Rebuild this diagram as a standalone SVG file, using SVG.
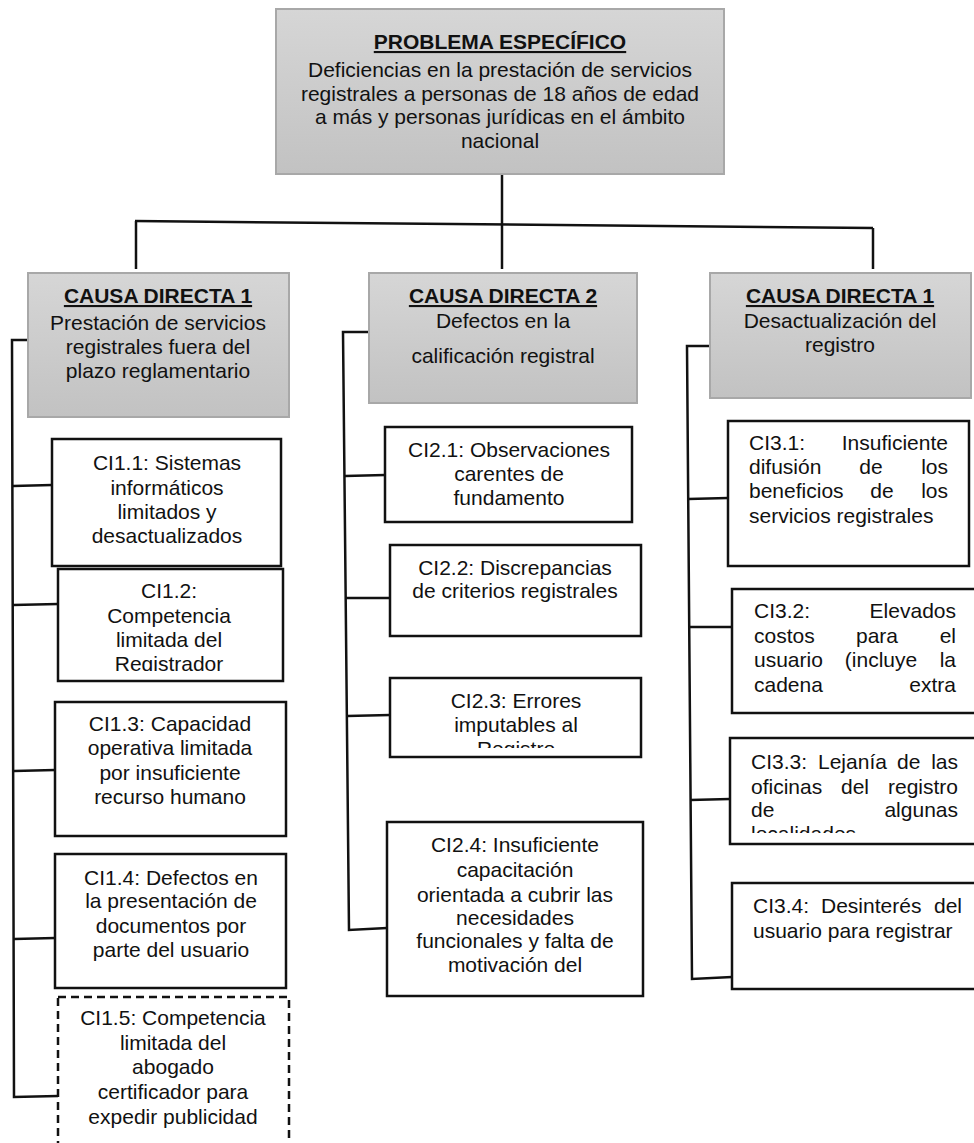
<svg xmlns="http://www.w3.org/2000/svg" width="974" height="1143" viewBox="0 0 974 1143">
<style>
text{font-family:"Liberation Sans",Arial,sans-serif;font-size:21px;fill:#111;}
.c{text-anchor:middle;}
.e{text-anchor:end;}
.h{font-weight:bold;text-decoration:underline;}
.hdr{fill:url(#g);stroke:#a8a8a8;stroke-width:2;}
.box{fill:#fff;stroke:#111;stroke-width:2.5;}
.dash{fill:#fff;stroke:#111;stroke-width:2.5;stroke-dasharray:8 5;}
.ln{fill:none;stroke:#111;stroke-width:2.5;stroke-linejoin:miter;}
</style>
<defs>
<linearGradient id="g" x1="0" y1="0" x2="0" y2="1">
<stop offset="0" stop-color="#d6d6d6"/>
<stop offset="1" stop-color="#c2c2c2"/>
</linearGradient>
<clipPath id="k12"><rect x="58" y="569" width="225" height="102"/></clipPath>
<clipPath id="k23"><rect x="390" y="678" width="251" height="70"/></clipPath>
<clipPath id="k24"><rect x="387" y="822" width="256" height="165"/></clipPath>
<clipPath id="k33"><rect x="730" y="738" width="244" height="95"/></clipPath>
</defs>
<rect width="974" height="1143" fill="#fff"/>

<g id="connectors">
<path class="ln" d="M502,174 L502,269"/>
<path class="ln" d="M135,221 L873,228"/>
<path class="ln" d="M136,221 L136,269"/>
<path class="ln" d="M873,228 L873,269"/>
<path class="ln" d="M28,340 L12,340 L14,1097 L58,1096"/>
<path class="ln" d="M13,486 L52,485"/>
<path class="ln" d="M13,605 L58,604"/>
<path class="ln" d="M14,771 L55,770"/>
<path class="ln" d="M14,939 L55,938"/>
<path class="ln" d="M369,332 L343,332 L349,930 L387,928"/>
<path class="ln" d="M345,476 L385,475"/>
<path class="ln" d="M346,598 L390,598"/>
<path class="ln" d="M347,716 L390,715"/>
<path class="ln" d="M710,346 L687,346 L692,979 L732,977"/>
<path class="ln" d="M688,499 L728,498"/>
<path class="ln" d="M689,627 L732,627"/>
<path class="ln" d="M690,800 L730,799"/>
</g>

<g id="problema">
<rect class="hdr" x="276" y="9" width="448" height="165"/>
<text class="c h" x="500" y="49">PROBLEMA ESPECÍFICO</text>
<text class="c" x="500" y="77">Deficiencias en la prestación de servicios</text>
<text class="c" x="500" y="101">registrales a personas de 18 años de edad</text>
<text class="c" x="500" y="124">a más y personas jurídicas en el ámbito</text>
<text class="c" x="500" y="148">nacional</text>
</g>

<g id="causa1">
<rect class="hdr" x="28" y="273" width="261" height="144"/>
<text class="c h" x="158" y="303">CAUSA DIRECTA 1</text>
<text class="c" x="158" y="330">Prestación de servicios</text>
<text class="c" x="158" y="354">registrales fuera del</text>
<text class="c" x="158" y="378">plazo reglamentario</text>
</g>

<g id="causa2">
<rect class="hdr" x="369" y="273" width="268" height="130"/>
<text class="c h" x="503" y="303">CAUSA DIRECTA 2</text>
<text class="c" x="503" y="328">Defectos en la</text>
<text class="c" x="503" y="363">calificación registral</text>
</g>

<g id="causa3">
<rect class="hdr" x="710" y="273" width="261" height="125"/>
<text class="c h" x="840" y="303">CAUSA DIRECTA 1</text>
<text class="c" x="840" y="328">Desactualización del</text>
<text class="c" x="840" y="352">registro</text>
</g>

<g id="ci1-1">
<rect class="box" x="52" y="439" width="229" height="127"/>
<text class="c" x="167" y="470">CI1.1: Sistemas</text>
<text class="c" x="167" y="495">informáticos</text>
<text class="c" x="167" y="519">limitados y</text>
<text class="c" x="167" y="543">desactualizados</text>
</g>

<g id="ci1-2">
<rect class="box" x="58" y="569" width="225" height="112"/>
<g clip-path="url(#k12)">
<text class="c" x="169" y="598">CI1.2:</text>
<text class="c" x="169" y="623">Competencia</text>
<text class="c" x="169" y="647">limitada del</text>
<text class="c" x="169" y="671">Registrador</text>
</g>
</g>

<g id="ci1-3">
<rect class="box" x="55" y="702" width="231" height="134"/>
<text class="c" x="170" y="731">CI1.3: Capacidad</text>
<text class="c" x="170" y="755">operativa limitada</text>
<text class="c" x="170" y="780">por insuficiente</text>
<text class="c" x="170" y="804">recurso humano</text>
</g>

<g id="ci1-4">
<rect class="box" x="55" y="854" width="231" height="134"/>
<text class="c" x="171" y="885">CI1.4: Defectos en</text>
<text class="c" x="171" y="908">la presentación de</text>
<text class="c" x="171" y="933">documentos por</text>
<text class="c" x="171" y="957">parte del usuario</text>
</g>

<g id="ci1-5">
<rect class="dash" x="58" y="997" width="231" height="170"/>
<text class="c" x="173" y="1025">CI1.5: Competencia</text>
<text class="c" x="173" y="1050">limitada del</text>
<text class="c" x="173" y="1074">abogado</text>
<text class="c" x="173" y="1099">certificador para</text>
<text class="c" x="173" y="1124">expedir publicidad</text>
</g>

<g id="ci2-1">
<rect class="box" x="385" y="427" width="247" height="95"/>
<text class="c" x="509" y="457">CI2.1: Observaciones</text>
<text class="c" x="509" y="481">carentes de</text>
<text class="c" x="509" y="505">fundamento</text>
</g>

<g id="ci2-2">
<rect class="box" x="390" y="545" width="251" height="91"/>
<text class="c" x="515" y="575">CI2.2: Discrepancias</text>
<text class="c" x="515" y="598">de criterios registrales</text>
</g>

<g id="ci2-3">
<rect class="box" x="390" y="678" width="251" height="79"/>
<g clip-path="url(#k23)">
<text class="c" x="516" y="708">CI2.3: Errores</text>
<text class="c" x="516" y="732">imputables al</text>
<text class="c" x="516" y="756">Registro</text>
</g>
</g>

<g id="ci2-4">
<rect class="box" x="387" y="822" width="256" height="174"/>
<g clip-path="url(#k24)">
<text class="c" x="515" y="852">CI2.4: Insuficiente</text>
<text class="c" x="515" y="877">capacitación</text>
<text class="c" x="515" y="902">orientada a cubrir las</text>
<text class="c" x="515" y="925">necesidades</text>
<text class="c" x="515" y="948">funcionales y falta de</text>
<text class="c" x="515" y="972">motivación del</text>
</g>
</g>

<g id="ci3-1">
<rect class="box" x="728" y="421" width="241" height="145"/>
<text x="749" y="450">CI3.1:</text><text class="e" x="948" y="450">Insuficiente</text>
<text x="749" y="474">difusión</text><text class="c" x="871" y="474">de</text><text class="e" x="948" y="474">los</text>
<text x="749" y="498">beneficios</text><text class="c" x="882" y="498">de</text><text class="e" x="948" y="498">los</text>
<text x="749" y="523">servicios registrales</text>
</g>

<g id="ci3-2">
<rect class="box" x="732" y="589" width="250" height="124"/>
<text x="754" y="618">CI3.2:</text><text class="e" x="956" y="618">Elevados</text>
<text x="754" y="643">costos</text><text class="c" x="877" y="643">para</text><text class="e" x="956" y="643">el</text>
<text x="754" y="667">usuario</text><text class="c" x="881" y="667">(incluye</text><text class="e" x="956" y="667">la</text>
<text x="754" y="692">cadena</text><text class="e" x="956" y="692">extra</text>
</g>

<g id="ci3-3">
<rect class="box" x="730" y="738" width="252" height="106"/>
<g clip-path="url(#k33)">
<text x="751" y="769">CI3.3:</text><text x="818" y="769">Lejanía</text><text x="897" y="769">de</text><text class="e" x="958" y="769">las</text>
<text x="751" y="794">oficinas</text><text class="c" x="855" y="794">del</text><text class="e" x="958" y="794">registro</text>
<text x="751" y="817">de</text><text class="e" x="958" y="817">algunas</text>
<text x="751" y="841">localidades</text>
</g>
</g>

<g id="ci3-4">
<rect class="box" x="732" y="883" width="250" height="106"/>
<text x="753" y="913">CI3.4:</text><text x="821" y="913">Desinterés</text><text class="e" x="962" y="913">del</text>
<text x="753" y="938">usuario para registrar</text>
</g>
</svg>
